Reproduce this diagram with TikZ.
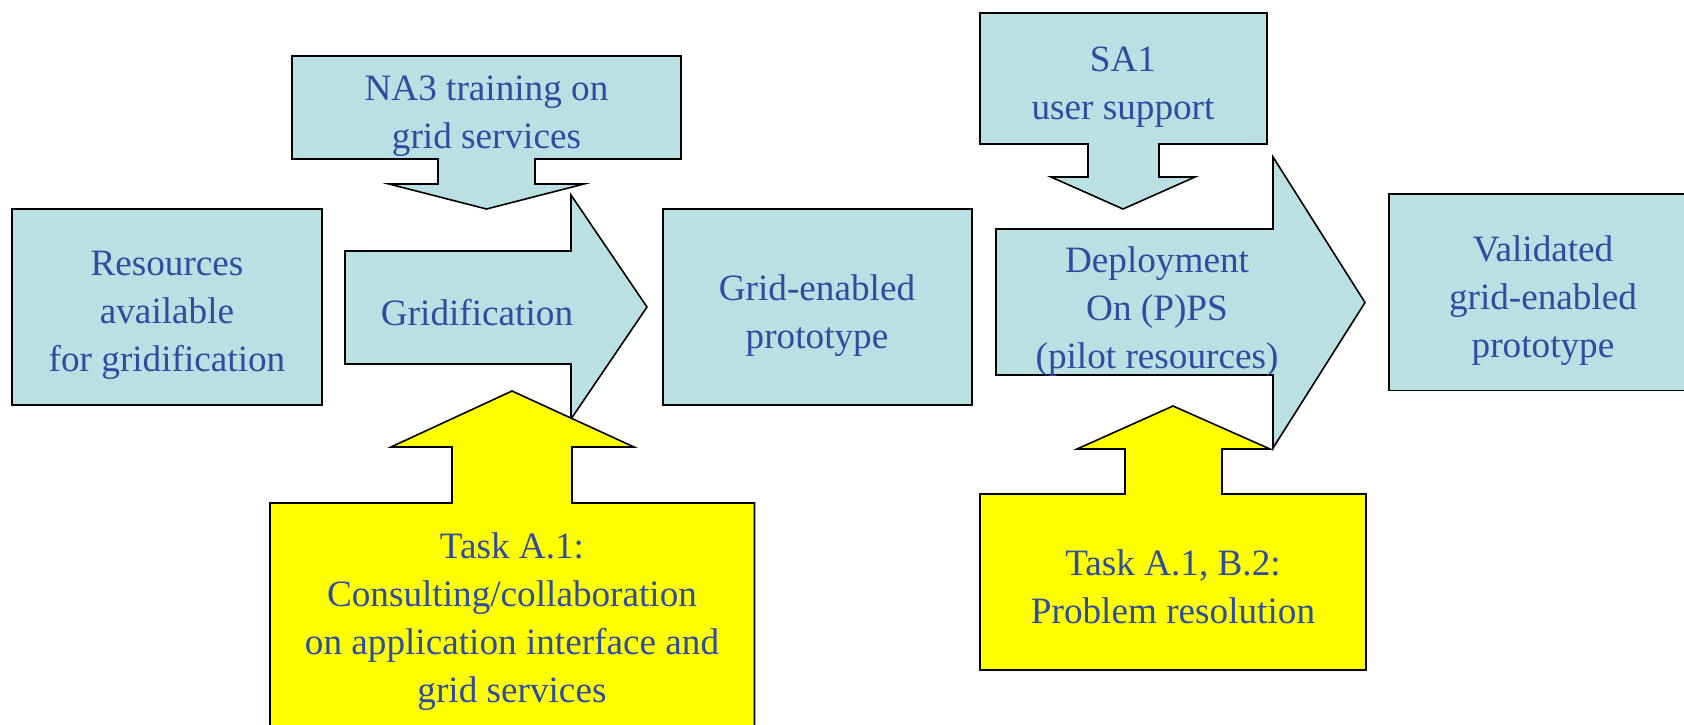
\documentclass[tikz,border=0pt]{standalone}
\usepackage{fontspec}
\setmainfont{Liberation Serif}
\definecolor{boxblue}{RGB}{187,224,227}
\definecolor{taskyellow}{RGB}{255,255,0}
\definecolor{textblue}{RGB}{46,76,160}
\begin{document}
\begin{tikzpicture}[x = 0.5pt, y = -0.5pt,
	bluefill/.style = {draw = black, line width = 0.8pt, fill = boxblue},
	yellowfill/.style = {draw = black, line width = 0.8pt, fill = taskyellow},
	boxtext/.style = {text = textblue, align = center, font = \fontsize{18.6pt}{24pt}\selectfont}]
	\clip (0,0) rectangle (1684,724);
	%\draw [red] (0,0) rectangle (1684,724);
	% first row of blue boxes and arrows
	\draw [bluefill] (12,209) rectangle (322,405);
	\draw [bluefill] (292,56) -- (681,56) -- (681,159) -- (535,159) -- (535,184) -- (584,184) -- (486.5,209)
		-- (389,184) -- (438,184) -- (438,159) -- (292,159) -- cycle;
	\draw [bluefill] (345,251) -- (571,251) -- (571,195) -- (647,307) -- (571,419) -- (571,364) -- (345,364) -- cycle;
	\draw [bluefill] (663,209) rectangle (972,405);
	\draw [bluefill] (980,13) -- (1267,13) -- (1267,144) -- (1159,144) -- (1159,177) -- (1195,177) -- (1123,209)
		-- (1051,177) -- (1088,177) -- (1088,144) -- (980,144) -- cycle;
	\draw [bluefill] (996,229) -- (1273,229) -- (1273,157) -- (1365,302.5) -- (1273,448) -- (1273,375) -- (996,375) -- cycle;
	\draw [bluefill] (1389,194) rectangle (1700,390.5);
	% yellow tasks
	\draw [yellowfill] (512,391) -- (634,447) -- (572,447) -- (572,503) -- (754.5,503) -- (754.5,740)
		-- (270,740) -- (270,503) -- (452,503) -- (452,447) -- (391,447) -- cycle;
	\draw [yellowfill] (1173,406) -- (1270,449) -- (1222,449) -- (1222,494) -- (1366,494) -- (1366,670)
		-- (980,670) -- (980,494) -- (1125,494) -- (1125,449) -- (1077,449) -- cycle;
	% texts
	\node [boxtext] (res) at (167,315) {Resources\\available\\for gridification};
	\node [boxtext] (na3) at (486.5,116) {NA3 training on\\grid services};
	\node [boxtext] (gridif) at (477,313) {Gridification};
	\node [boxtext] (proto) at (817,316) {Grid-enabled\\prototype};
	\node [boxtext] (sa1) at (1123,87) {SA1\\user support};
	\node [boxtext] (deploy) at (1157,312) {Deployment\\On (P)PS\\(pilot resources)};
	\node [boxtext] (valid) at (1543,301) {Validated\\grid-enabled\\prototype};
	\node [boxtext] (taska) at (512,622) {Task A.1:\\Consulting/collaboration\\on application interface and\\grid services};
	\node [boxtext] (taskab) at (1173,587) {Task A.1, B.2:\\Problem resolution};
\end{tikzpicture}
\end{document}
